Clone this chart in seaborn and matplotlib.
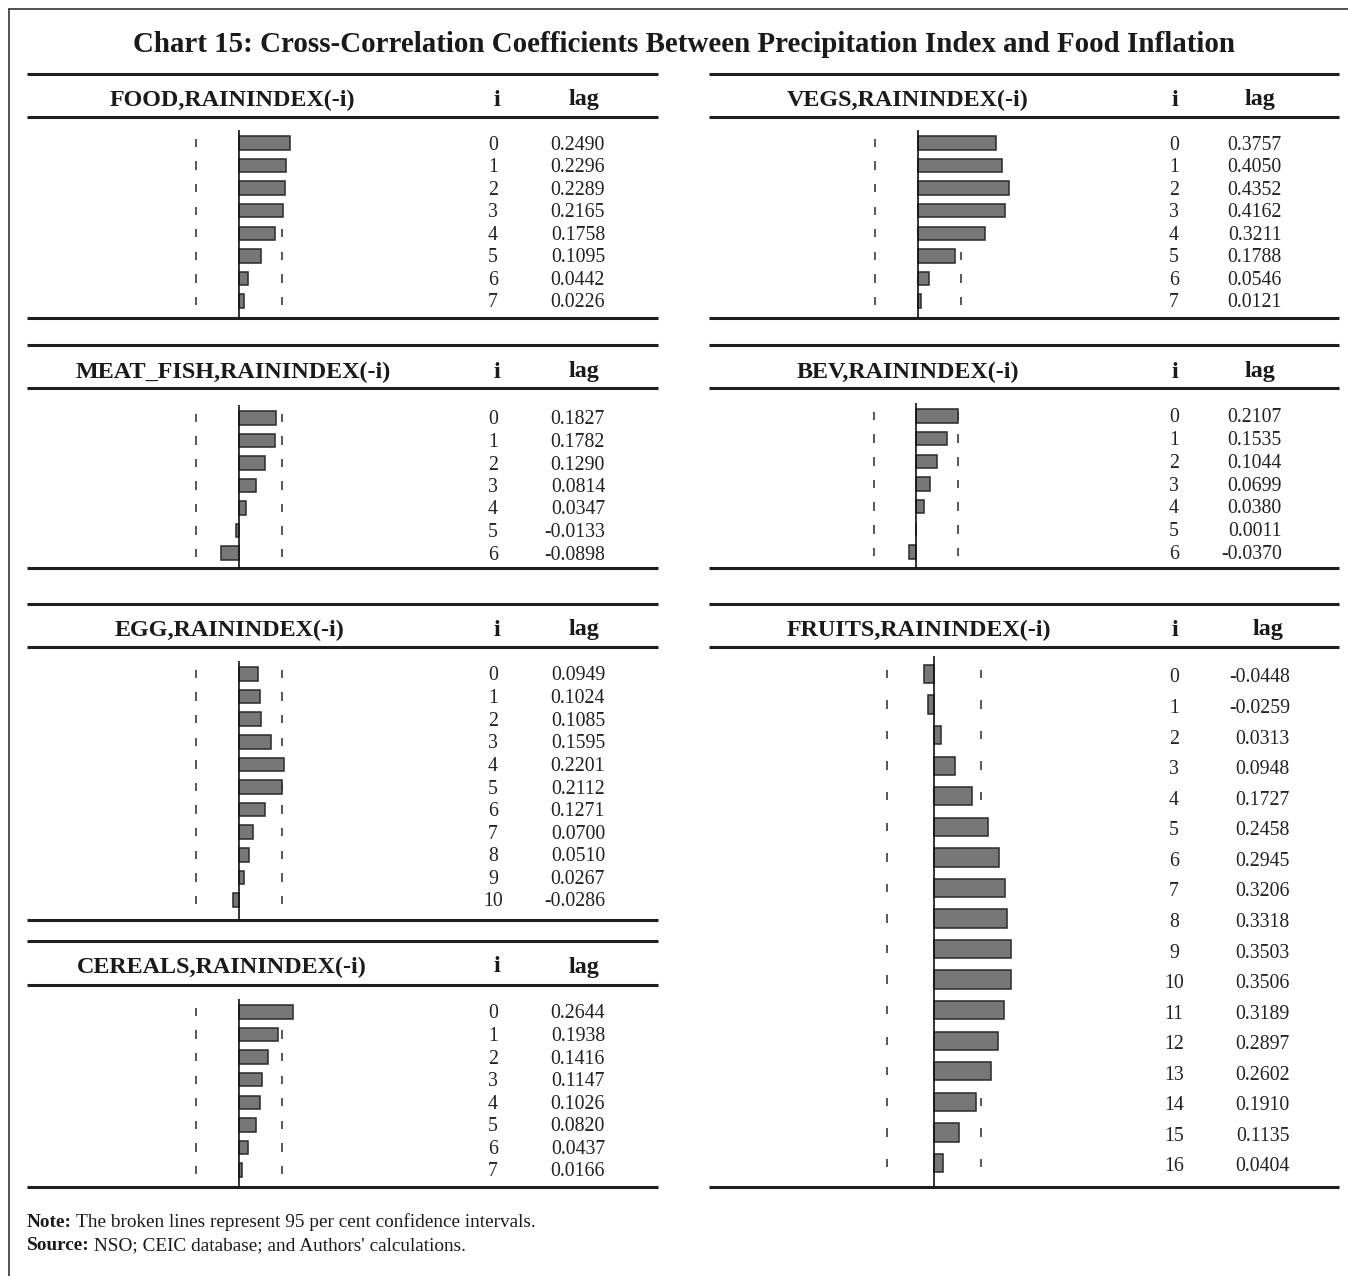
import numpy as np
import pandas as pd
import matplotlib
matplotlib.use("Agg")
import matplotlib.pyplot as plt
import seaborn as sns

# Cross-correlation coefficients r(i) between each food group and RAININDEX(-i)
food = [0.2490, 0.2296, 0.2289, 0.2165, 0.1758, 0.1095, 0.0442, 0.0226]
vegs = [0.3757, 0.4050, 0.4352, 0.4162, 0.3211, 0.1788, 0.0546, 0.0121]
meat_fish = [0.1827, 0.1782, 0.1290, 0.0814, 0.0347, -0.0133, -0.0898]
bev = [0.2107, 0.1535, 0.1044, 0.0699, 0.0380, 0.0011, -0.0370]
egg = [0.0949, 0.1024, 0.1085, 0.1595, 0.2201, 0.2112, 0.1271, 0.0700,
       0.0510, 0.0267, -0.0286]
cereals = [0.2644, 0.1938, 0.1416, 0.1147, 0.1026, 0.0820, 0.0437, 0.0166]
fruits = [-0.0448, -0.0259, 0.0313, 0.0948, 0.1727, 0.2458, 0.2945, 0.3206,
          0.3318, 0.3503, 0.3506, 0.3189, 0.2897, 0.2602, 0.1910, 0.1135, 0.0404]

# 95 per cent confidence bands (+/-) for each correlogram
ci_band = {"FOOD": 0.21, "VEGS": 0.205, "MEAT_FISH": 0.21, "BEV": 0.21,
           "EGG": 0.21, "CEREALS": 0.21, "FRUITS": 0.215}

panel_titles = ["FOOD,RAININDEX(-i)", "VEGS,RAININDEX(-i)",
                "MEAT_FISH,RAININDEX(-i)", "BEV,RAININDEX(-i)",
                "EGG,RAININDEX(-i)", "FRUITS,RAININDEX(-i)",
                "CEREALS,RAININDEX(-i)"]
col_heads = ["i", "lag"]

title = "Chart 15: Cross-Correlation Coefficients Between Precipitation Index and Food Inflation"
note_head, note_text = "Note:", "The broken lines represent 95 per cent confidence intervals."
src_head, src_text = "Source:", "NSO; CEIC database; and Authors' calculations."

# ---------------------------------------------------------------- layout (pixels)
W, H = 1348, 1276
LEFT = dict(x0=27, x1=658, title_x=232, i_x=497, lag_x=584, num_x=493, val_x=605,
            zero=239, scale=203, ax_l=150, ax_r=345)
RIGHT = dict(x0=709, x1=1339, title_x=908, i_x=1175, lag_x=1260, num_x=1174, val_x=1282,
             zero=918, scale=208, ax_l=830, ax_r=1060)

panels = [
    dict(key="FOOD", vals=food, title=panel_titles[0], side=LEFT,
         top=74, head=98, rule=117, y0=143, dy=22.57, bottom=318),
    dict(key="VEGS", vals=vegs, title=panel_titles[1], side=RIGHT,
         top=74, head=98, rule=117, y0=143, dy=22.57, bottom=318),
    dict(key="MEAT_FISH", vals=meat_fish, title=panel_titles[2], side=LEFT,
         top=345, head=370, rule=388, y0=418, dy=22.5, bottom=568, title_x=233),
    dict(key="BEV", vals=bev, title=panel_titles[3], side=RIGHT,
         top=345, head=370, rule=388, y0=416, dy=22.67, bottom=568,
         zero=916, scale=200),
    dict(key="EGG", vals=egg, title=panel_titles[4], side=LEFT,
         top=604, head=628, rule=647, y0=674, dy=22.6, bottom=920, title_x=230),
    dict(key="FRUITS", vals=fruits, title=panel_titles[5], side=RIGHT,
         top=604, head=628, rule=647, y0=674, dy=30.56, bottom=1187,
         zero=934, scale=220, title_x=919, lag_x=1268, val_x=1290, text_dy=2),
    dict(key="CEREALS", vals=cereals, title=panel_titles[6], side=LEFT,
         top=941, head=965, rule=985, y0=1012, dy=22.57, bottom=1187, title_x=222),
]

SERIF = ["Liberation Serif", "DejaVu Serif"]
sns.set_style("white")
plt.rcParams["font.family"] = SERIF

fig = plt.figure(figsize=(W / 100, H / 100), dpi=100)
fig.patch.set_facecolor("white")

# full-figure canvas in pixel units for rules and text
bg = fig.add_axes([0, 0, 1, 1])
bg.set_xlim(0, W)
bg.set_ylim(H, 0)
bg.axis("off")

RULE = "#1e1e1e"
TXT = "#1a1a1a"
# outer frame (left and top edges)
bg.plot([9, 9], [9, H], color="#333333", lw=1.2)
bg.plot([9, W], [9, 9], color="#333333", lw=1.2)

bg.text(684, 45, title, ha="center", va="center", fontsize=20.9,
        fontweight="bold", color=TXT)

for p in panels:
    s = dict(p["side"])
    for k in ("title_x", "lag_x", "val_x", "zero", "scale"):
        if k in p:
            s[k] = p[k]
    text_dy = p.get("text_dy", 0) + 2

    # horizontal rules
    for y in (p["top"], p["rule"], p["bottom"]):
        bg.plot([s["x0"], s["x1"]], [y, y], color=RULE, lw=2.2,
                solid_capstyle="butt")

    # header row
    hy = p["head"] + 2
    bg.text(s["title_x"], hy, p["title"], ha="center", va="center",
            fontsize=17.4, fontweight="bold", color=TXT)
    bg.text(s["i_x"], hy, col_heads[0], ha="center", va="center",
            fontsize=17.4, fontweight="bold", color=TXT)
    bg.text(s["lag_x"], hy, col_heads[1], ha="center", va="center",
            fontsize=17.4, fontweight="bold", color=TXT)

    vals = p["vals"]
    n = len(vals)
    # lag index and coefficient columns
    for k, v in enumerate(vals):
        yk = p["y0"] + k * p["dy"] + text_dy
        bg.text(s["num_x"], yk, str(k), ha="center", va="center",
                fontsize=14.3, color="#222222")
        bg.text(s["val_x"], yk, f"{v:.4f}", ha="right", va="center",
                fontsize=14.3, color="#222222")

    # correlogram bars
    y_a = p["y0"] - 0.58 * p["dy"]
    y_b = p["bottom"]
    ax = fig.add_axes([s["ax_l"] / W, 1 - y_b / H,
                       (s["ax_r"] - s["ax_l"]) / W, (y_b - y_a) / H])
    df = pd.DataFrame({"lag": [str(k) for k in range(n)], "r": vals})
    sns.barplot(data=df, x="r", y="lag", orient="h", color="#777777",
                edgecolor="#2a2a2a", linewidth=1.1, width=0.6, saturation=1,
                errorbar=None, ax=ax, zorder=2)
    ax.set_xlim((s["ax_l"] - s["zero"]) / s["scale"],
                (s["ax_r"] - s["zero"]) / s["scale"])
    ax.set_ylim((y_b - p["y0"]) / p["dy"], (y_a - p["y0"]) / p["dy"])
    ax.axvline(0, color="#111111", lw=1.2, zorder=4)
    ci = ci_band[p["key"]]
    rows = np.arange(n)
    half = 4.2 / p["dy"]
    # confidence band dashes sit behind the bars
    for xc in (-ci, ci):
        ax.vlines(np.full(n, xc), rows - half, rows + half,
                  color="#4a4a4a", lw=1.3, zorder=0.5)
    ax.set_axis_off()
    ax.patch.set_alpha(0)

# note and source lines
for y, head, body in ((1227, note_head, note_text), (1250, src_head, src_text)):
    t = bg.text(27, y, head, ha="left", va="baseline", fontsize=13.9,
                fontweight="bold", color=TXT)
    bg.annotate(body, xy=(1, 0), xycoords=t, xytext=(3, 0),
                textcoords="offset points", ha="left", va="bottom",
                fontsize=13.9, color=TXT)

fig.savefig("out.png", dpi=100)
